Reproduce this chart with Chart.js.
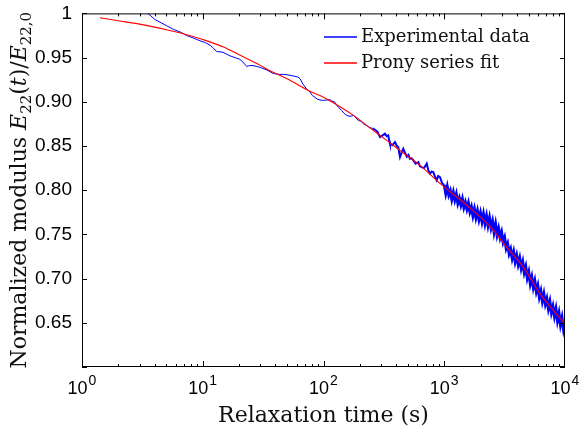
<!DOCTYPE html>
<html>
<head>
<meta charset="utf-8">
<script src="https://cdn.jsdelivr.net/npm/chart.js@4.4.1/dist/chart.umd.min.js"></script>
<style>
html, body { margin: 0; padding: 0; background: #fff; }
</style>
</head>
<body>
<canvas id="modulusChart" width="580" height="433"></canvas>
<script>
// measured relaxation data (time in s, normalized modulus)
const expTime = [3.2, 3.45, 3.66, 4.02, 4.43, 5.03, 5.7, 6.5, 7.36, 8.4,
  9.49, 10.5, 11.5, 12.2, 13, 14.7, 16.8, 18.5, 20.3, 21.5,
  23.1, 24.5, 26.1, 28, 29.8, 33.9, 38.4, 43.6, 47, 52.8,
  57, 61.5, 64, 67.6, 72, 77.3, 81, 85.1, 89, 93.6,
  100, 106, 113, 117, 124, 129, 135, 141, 148, 156,
  166, 177, 185, 194, 204, 214, 228, 243, 255, 267,
  280, 294, 308, 323, 334, 344, 350, 355, 372, 391,
  405, 416, 430, 445, 458, 475, 490, 505, 520, 537,
  555, 580, 610, 630, 650, 680, 716, 740, 762, 785,
  811, 840, 865, 890, 922, 960,
  1000, 1029, 1059, 1090, 1122, 1155, 1189, 1223, 1259, 1296,
  1334, 1373, 1413, 1454, 1496, 1540, 1585, 1631, 1679, 1728,
  1778, 1830, 1884, 1939, 1995, 2054, 2113, 2175, 2239, 2304,
  2371, 2441, 2512, 2585, 2661, 2738, 2818, 2901, 2985, 3073,
  3162, 3255, 3350, 3447, 3548, 3652, 3758, 3868, 3981, 4097,
  4217, 4340, 4467, 4597, 4732, 4870, 5012, 5158, 5309, 5464,
  5623, 5788, 5957, 6131, 6310, 6494, 6683, 6879, 7079, 7286,
  7499, 7718, 7943, 8175, 8414, 8660, 8913, 9173, 9441, 9716, 10000];
const expModulus = [1.004, 1.001, 0.998, 0.993, 0.990, 0.986, 0.982, 0.979, 0.975, 0.972,
  0.969, 0.967, 0.964, 0.961, 0.957, 0.956, 0.952, 0.950, 0.948, 0.945,
  0.940, 0.941, 0.941, 0.940, 0.939, 0.936, 0.932, 0.931, 0.931, 0.930,
  0.929, 0.928, 0.926, 0.920, 0.915, 0.911, 0.907, 0.905, 0.903, 0.902,
  0.9016, 0.902, 0.9024, 0.901, 0.8997, 0.8959, 0.893, 0.8903, 0.887, 0.8846,
  0.8835, 0.8846, 0.882, 0.879, 0.878, 0.8752, 0.873, 0.8707, 0.870, 0.8684,
  0.866, 0.8601, 0.862, 0.8639, 0.861, 0.862, 0.856, 0.8526, 0.851, 0.8544,
  0.850, 0.8488, 0.8374, 0.843, 0.8469, 0.842, 0.838, 0.840, 0.8356, 0.836,
  0.8337, 0.830, 0.8318, 0.827, 0.8261, 0.825, 0.830, 0.822, 0.8187, 0.821,
  0.8205, 0.815, 0.8111, 0.816, 0.8148, 0.808,
  0.8058, 0.7964, 0.8040, 0.7946, 0.7992, 0.7898, 0.7974, 0.7890, 0.7956, 0.7852,
  0.7908, 0.7834, 0.7900, 0.7806, 0.7862, 0.7788, 0.7852, 0.7756, 0.7810, 0.7713,
  0.7787, 0.7691, 0.7765, 0.7668, 0.7742, 0.7646, 0.7730, 0.7624, 0.7708, 0.7602,
  0.7686, 0.7576, 0.7646, 0.7526, 0.7616, 0.7495, 0.7565, 0.7465, 0.7525, 0.7414,
  0.7464, 0.7344, 0.7393, 0.7283, 0.7332, 0.7232, 0.7301, 0.7191, 0.7260, 0.7160,
  0.7229, 0.7119, 0.7188, 0.7071, 0.7134, 0.7008, 0.7072, 0.6945, 0.7017, 0.6900,
  0.6973, 0.6856, 0.6919, 0.6792, 0.6858, 0.6746, 0.6825, 0.6713, 0.6772, 0.6660,
  0.6738, 0.6617, 0.6685, 0.6575, 0.6656, 0.6526, 0.6607, 0.6478, 0.6559, 0.6429, 0.6510];

// Prony series fit
const fitTime = [1.41, 2, 3, 5, 7, 10, 15, 20, 30, 36, 50, 77, 93.5, 110, 177,
  250, 334, 450, 630, 922, 1535, 2393, 3290, 4517, 6210, 8000, 10000];
const fitModulus = [0.995, 0.9917, 0.9879, 0.9815, 0.9767, 0.9705, 0.9618, 0.9532, 0.9412, 0.935,
  0.926, 0.912, 0.907, 0.902, 0.8846, 0.8691, 0.8563, 0.843, 0.828, 0.8077,
  0.783, 0.759, 0.7356, 0.713, 0.683, 0.664, 0.649];

const seriesLabels = ['Experimental data', 'Prony series fit'];
const seriesColors = ['rgb(0, 0, 255)', 'rgb(255, 0, 0)'];
const xTickValues = [1, 10, 100, 1000, 10000];
const xTickExponents = ['0', '1', '2', '3', '4'];
const yTickValues = [0.6, 0.65, 0.7, 0.75, 0.8, 0.85, 0.9, 0.95, 1];

const sans = '"Liberation Sans", Arial, sans-serif';
const serif = '"DejaVu Serif", serif';

// box around the axes with inward ticks, plus the 10^n labels
const axesBox = {
  id: 'axesBox',
  afterDatasetsDraw(chart) {
    const { ctx, chartArea: a, scales: { x, y } } = chart;
    ctx.save();
    ctx.strokeStyle = '#000';
    ctx.lineWidth = 1;
    ctx.strokeRect(a.left + 0.5, a.top + 0.5, a.width - 1, a.height - 1);
    ctx.beginPath();
    for (let d = 0; d < 4; d++) {
      for (let m = 1; m <= 9; m++) {
        const px = Math.round(x.getPixelForValue(m * Math.pow(10, d))) + 0.5;
        const len = m === 1 ? 6 : 3;
        ctx.moveTo(px, a.bottom); ctx.lineTo(px, a.bottom - len);
        ctx.moveTo(px, a.top); ctx.lineTo(px, a.top + len);
      }
    }
    yTickValues.forEach(v => {
      const py = Math.round(y.getPixelForValue(v)) + 0.5;
      ctx.moveTo(a.left, py); ctx.lineTo(a.left + 5, py);
      ctx.moveTo(a.right, py); ctx.lineTo(a.right - 5, py);
    });
    ctx.stroke();

    ctx.fillStyle = '#000';
    ctx.textBaseline = 'alphabetic';
    ctx.textAlign = 'left';
    xTickValues.forEach((v, i) => {
      const px = x.getPixelForValue(v);
      ctx.font = '18px ' + sans;
      const wBase = ctx.measureText('10').width;
      ctx.font = '14px ' + sans;
      const wExp = ctx.measureText(xTickExponents[i]).width;
      const left = px - (wBase + wExp + 1) / 2;
      ctx.font = '18px ' + sans;
      ctx.fillText('10', left, a.bottom + 27);
      ctx.font = '14px ' + sans;
      ctx.fillText(xTickExponents[i], left + wBase + 1, a.bottom + 18);
    });
    ctx.restore();
  }
};

// legend in the upper right, no frame
const insideLegend = {
  id: 'insideLegend',
  afterDraw(chart) {
    const ctx = chart.ctx;
    chart.data.datasets.forEach((ds, i) => {
      const yy = 37 + i * 26;
      ctx.save();
      ctx.beginPath();
      ctx.strokeStyle = ds.borderColor;
      ctx.lineWidth = 1.3;
      ctx.moveTo(324, yy);
      ctx.lineTo(357, yy);
      ctx.stroke();
      ctx.restore();
      ctx.save();
      ctx.font = '18px ' + serif;
      ctx.textBaseline = 'middle';
      ctx.fillStyle = '#111';
      ctx.fillText(ds.label, 361, yy + 0.5);
      ctx.restore();
    });
  }
};

// y title with italic symbols and subscripts
const yTitle = {
  id: 'yTitle',
  afterDraw(chart) {
    const ctx = chart.ctx;
    const a = chart.chartArea;
    const parts = [
      ['Normalized modulus ', 'n'], ['E', 'i'], ['22', 's'], ['(', 'n'], ['t', 'i'],
      [')', 'n'], ['/', 'n'], ['E', 'i'], ['22,0', 's']
    ];
    const fonts = { n: '22px ' + serif, i: 'italic 22px ' + serif, s: '15px ' + serif };
    let total = 0;
    parts.forEach(p => { ctx.font = fonts[p[1]]; total += ctx.measureText(p[0]).width; });
    ctx.save();
    ctx.translate(26, (a.top + a.bottom) / 2);
    ctx.rotate(-Math.PI / 2);
    ctx.fillStyle = '#111';
    ctx.textBaseline = 'alphabetic';
    let pos = -total / 2;
    parts.forEach(p => {
      ctx.font = fonts[p[1]];
      ctx.fillText(p[0], pos, p[1] === 's' ? 5 : 0);
      pos += ctx.measureText(p[0]).width;
    });
    ctx.restore();
  }
};

const blueWidth = c => {
  const t = c.p0.parsed.x;
  return t >= 1000 ? 3 : (t > 250 ? 2 : 1);
};

new Chart(document.getElementById('modulusChart'), {
  type: 'line',
  data: {
    datasets: [
      {
        label: seriesLabels[0],
        data: expTime.map((t, i) => ({ x: t, y: expModulus[i] })),
        borderColor: seriesColors[0],
        borderWidth: 1,
        segment: { borderWidth: blueWidth },
        pointRadius: 0,
        tension: 0,
        order: 2
      },
      {
        label: seriesLabels[1],
        data: fitTime.map((t, i) => ({ x: t, y: fitModulus[i] })),
        borderColor: seriesColors[1],
        borderWidth: 1.1,
        pointRadius: 0,
        cubicInterpolationMode: 'monotone',
        order: 1
      }
    ]
  },
  options: {
    responsive: false,
    animation: false,
    devicePixelRatio: 1,
    layout: { padding: { top: 13, right: 15, left: 0, bottom: 0 } },
    plugins: { legend: { display: false }, tooltip: { enabled: false } },
    scales: {
      x: {
        type: 'logarithmic',
        min: 1,
        max: 10000,
        afterBuildTicks: s => { s.ticks = xTickValues.map(v => ({ value: v })); },
        afterFit: s => { s.height = 66; },
        grid: { display: false },
        border: { display: false },
        ticks: { autoSkip: false, maxRotation: 0, callback: () => '' },
        title: {
          display: true, text: 'Relaxation time (s)', color: '#111',
          font: { family: serif, size: 22 }, padding: { top: 0, bottom: 4 }
        }
      },
      y: {
        min: 0.6,
        max: 1,
        afterBuildTicks: s => { s.ticks = yTickValues.map(v => ({ value: v })); },
        afterFit: s => { s.width = 82; },
        grid: { display: false },
        border: { display: false },
        ticks: {
          padding: 2, color: '#000', font: { family: sans, size: 19 },
          callback: v => v === 1 ? '1' : (v < 0.62 ? '' : v.toFixed(2))
        }
      }
    }
  },
  plugins: [axesBox, insideLegend, yTitle]
});
</script>
</body>
</html>
